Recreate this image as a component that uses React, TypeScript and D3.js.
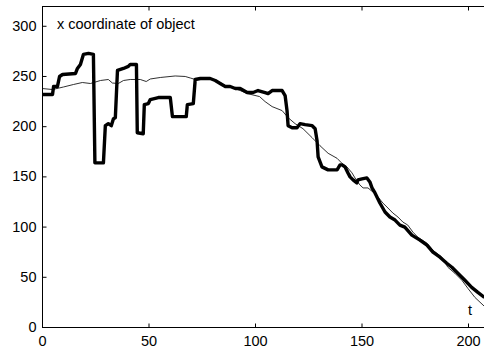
import React from "react";
import * as d3 from "d3";

// Estimated trajectory (thick) sampled at time t
const estT = [0, 4.7, 5.2, 7.0, 8.0, 9.4, 15.5, 16.4, 17.8, 19.2, 21.6, 23.9, 24.6, 28.6, 29.5, 30.9, 32.3, 33.3, 34.2, 35.2, 38.0, 40.3, 41.2, 44.1, 44.5, 47.3, 47.8, 49.7, 50.6, 54.4, 60.0, 61.0, 67.5, 68.0, 70.8, 71.7, 74.1, 78.7, 81.1, 83.4, 85.8, 88.1, 90.5, 92.8, 96.1, 98.9, 101.2, 104.5, 105.9, 107.8, 112.5, 113.9, 114.8, 115.3, 117.2, 119.5, 120.9, 123.3, 126.6, 128.0, 128.9, 129.4, 131.2, 134.1, 138.3, 139.7, 140.6, 142.0, 143.4, 144.4, 145.8, 147.6, 148.1, 150.0, 152.3, 153.7, 154.7, 156.1, 158.4, 160.8, 163.1, 165.5, 167.8, 170.1, 173.4, 177.2, 180.5, 183.3, 186.6, 189.8, 192.2, 195.0, 198.3, 201.5, 204.4, 207.5];
const estX = [232, 232, 240, 240, 250, 252, 253, 258, 262, 272, 273, 272, 164, 164, 201, 203, 201, 208, 209, 256, 258, 260, 262, 262, 194, 193, 222, 223, 227, 229, 229, 210, 210, 222, 223, 247, 248, 248, 246, 243, 240, 240, 238, 238, 234, 234, 236, 234, 233, 236, 236, 231, 216, 201, 199, 199, 203, 202, 201, 198, 186, 170, 160, 157, 157, 162, 162, 160, 154, 150, 147, 144, 147, 148, 149, 145, 139, 134, 124, 115, 110, 107, 102, 100, 92, 87, 82, 75, 70, 64, 60, 54, 47, 40, 35, 30];

// True trajectory (thin)
const trueT = [0, 4.7, 9.8, 14.5, 18.7, 22.5, 27.2, 30.9, 32.8, 35.6, 38.0, 41.2, 45.9, 48.7, 50.6, 55.3, 62.3, 67.0, 69.4, 71.7, 78.7, 83.4, 85.8, 89.1, 92.8, 96.1, 101.9, 104.5, 107.8, 112.5, 115.3, 118.6, 122.3, 126.6, 130.3, 134.1, 138.3, 140.6, 142.9, 145.3, 146.7, 149.0, 150.5, 152.8, 155.1, 157.5, 159.8, 162.2, 164.5, 166.9, 169.2, 171.5, 173.9, 176.2, 180.5, 183.3, 187.5, 188.9, 190.3, 193.6, 196.9, 199.7, 203.0, 207.5];
const trueX = [238, 237, 239.5, 242, 244, 243, 246, 247, 243.5, 243, 246, 247, 247, 245, 247.5, 249, 250.5, 250, 248.5, 247, 247.5, 244, 241, 239, 236, 233, 230, 225, 220, 216, 209, 203, 198, 189, 181, 173.5, 168.5, 163.5, 160, 154, 149, 142, 139, 139, 135, 130, 124, 119, 114, 110, 105, 102, 95, 90, 84, 77, 70, 65, 60, 54, 47, 39, 30, 21];

const xTicks = [0, 50, 100, 150, 200];
const yTicks = [0, 50, 100, 150, 200, 250, 300];

const W = 484;
const H = 352;
const left = 42.5;
const right = 489.8;
const top = 6.5;
const bottom = 327.5;

export default function App() {
  const x = d3.scaleLinear().domain([0, 210]).range([left, right]);
  const y = d3.scaleLinear().domain([0, 319.7]).range([bottom, top]);

  const line = d3
    .line<[number, number]>()
    .x((d) => x(d[0]))
    .y((d) => y(d[1]))
    .curve(d3.curveLinear);

  const est = line(estT.map((t, i) => [t, estX[i]] as [number, number])) || "";
  const tru = line(trueT.map((t, i) => [t, trueX[i]] as [number, number])) || "";

  const font = "'Liberation Sans', Arial, Helvetica, sans-serif";
  const fs = 14.5;
  const tickLen = 4;

  return (
    <svg
      width={W}
      height={H}
      style={{ position: "absolute", left: 0, top: 0, background: "#fff" }}
      fontFamily={font}
    >
      <defs>
        <clipPath id="plotArea">
          <rect x={left} y={top} width={right - left} height={bottom - top} />
        </clipPath>
      </defs>

      <g clipPath="url(#plotArea)">
        <path d={tru} fill="none" stroke="#1a1a1a" strokeWidth={0.9} strokeLinejoin="round" />
        <path d={est} fill="none" stroke="#000" strokeWidth={3.4} strokeLinejoin="round" />
      </g>

      {/* axes box */}
      <rect x={left} y={top} width={right - left} height={bottom - top} fill="none" stroke="#000" strokeWidth={1} />

      {xTicks.map((t) => (
        <g key={"x" + t}>
          <line x1={x(t)} x2={x(t)} y1={bottom} y2={bottom - tickLen} stroke="#000" strokeWidth={1} />
          <line x1={x(t)} x2={x(t)} y1={top} y2={top + tickLen} stroke="#000" strokeWidth={1} />
          <text x={x(t)} y={345.5} fontSize={fs} textAnchor="middle" fill="#000">
            {t}
          </text>
        </g>
      ))}

      {yTicks.map((v) => (
        <g key={"y" + v}>
          <line x1={left} x2={left + tickLen} y1={y(v)} y2={y(v)} stroke="#000" strokeWidth={1} />
          <text x={36.5} y={y(v) + 4.5} fontSize={fs} textAnchor="end" fill="#000">
            {v}
          </text>
        </g>
      ))}

      <text x={57} y={28.5} fontSize={fs} fill="#000">
        x coordinate of object
      </text>
      <text x={470} y={315.3} fontSize={fs} textAnchor="middle" fill="#000">
        t
      </text>
    </svg>
  );
}
